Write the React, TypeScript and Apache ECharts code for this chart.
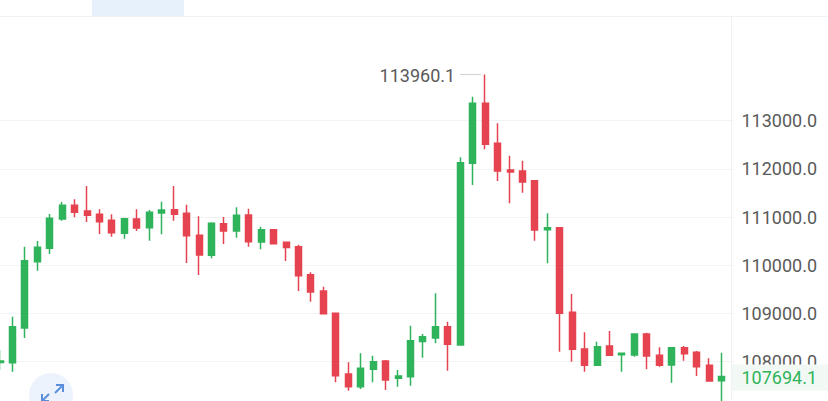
import React, { useEffect, useRef } from "react";
import * as echarts from "echarts";

// OHLC values (index 0 is the half-cut candle at the left edge)
const opens = [107983, 107979, 108699, 110075, 110353, 110961, 111245, 111127, 111058, 110934, 110664, 110961, 110780, 111085, 111154, 111079, 110622, 110207, 110863, 110712, 111044, 110483, 110739, 110479, 110386, 109805, 109467, 109004, 107745, 107481, 107842, 108015, 107656, 107689, 108419, 108492, 108726, 108346, 112116, 113361, 112531, 111977, 111956, 111755, 110739, 110780, 109025, 108263, 107925, 108326, 108145, 108139, 108575, 108133, 107932, 108290, 108195, 107925, 107606];
const closes = [108015, 108726, 110095, 110373, 110975, 111245, 111100, 111037, 110905, 110676, 110967, 110774, 111100, 111147, 111058, 110614, 110214, 110871, 110712, 111037, 110490, 110739, 110448, 110369, 109784, 109446, 108996, 107710, 107481, 107863, 108000, 107620, 107703, 108436, 108519, 108726, 108361, 112129, 113361, 112510, 111956, 111936, 111728, 110732, 110780, 109004, 108257, 107925, 108311, 108133, 108174, 108575, 108118, 107925, 108290, 108166, 107896, 107600, 107694.1];
const lows = [107828, 107792, 108492, 109888, 110234, 110925, 110996, 110898, 110649, 110593, 110552, 110712, 110510, 110643, 110925, 110048, 109799, 110145, 110442, 110573, 110386, 110332, 110442, 110089, 109467, 109245, 108990, 107573, 107398, 107434, 107573, 107413, 107481, 107502, 108083, 108382, 107813, 108332, 111666, 112407, 111749, 111286, 111506, 110510, 110041, 108207, 108000, 107792, 107920, 108130, 107792, 108104, 107842, 107896, 107564, 108021, 107703, 107585, 107000];
const highs = [108243, 108934, 110386, 110504, 111064, 111313, 111369, 111645, 111162, 111058, 110988, 111162, 111147, 111320, 111645, 111257, 111017, 110892, 111002, 111203, 111174, 110801, 110753, 110483, 110427, 109855, 109556, 109010, 107988, 108174, 108124, 108035, 107828, 108747, 108575, 109419, 108830, 112241, 113498, 113960.1, 112946, 112274, 112170, 111760, 111079, 110790, 109404, 108610, 108415, 108637, 108180, 108580, 108602, 108299, 108295, 108326, 108222, 108070, 108187];

const lastPrice = 107694.1;
const yMin = 108000;
const yMax = 113000;
const yStep = 1000;

// one empty slot after the last candle (the right edge of the plot)
const categories = [...opens.map((_, i) => String(i)), ""];

const GREEN = "#2FB35B";
const RED = "#E5434F";
const FONT = "Roboto, 'Noto Sans', sans-serif";

export default function App() {
  const ref = useRef<HTMLDivElement>(null);

  useEffect(() => {
    const chart = echarts.init(ref.current!, null, { renderer: "svg" });
    const data = opens.map((o, i) => [o, closes[i], lows[i], highs[i]]);
    const step = 12.44;
    const gridLeft = 0;
    const gridWidth = step * (categories.length - 1);

    chart.setOption({
      animation: false,
      backgroundColor: "#ffffff",
      grid: { left: gridLeft, width: gridWidth, top: 120.7, height: 241 },
      xAxis: {
        type: "category",
        data: categories,
        boundaryGap: false,
        show: false,
      },
      yAxis: {
        type: "value",
        position: "right",
        min: yMin,
        max: yMax,
        interval: yStep,
        axisLine: { show: false },
        axisTick: { show: false },
        splitLine: { lineStyle: { color: "#F2F3F5", width: 1 } },
        axisLabel: {
          align: "right",
          margin: 817 - (gridLeft + gridWidth),
          color: "#5A5A5A",
          fontSize: 18,
          fontFamily: FONT,
          formatter: (v: number) => v.toFixed(1),
        },
      },
      series: [
        {
          type: "candlestick",
          data,
          clip: false,
          barWidth: 6.5,
          itemStyle: {
            color: GREEN,
            color0: RED,
            borderColor: GREEN,
            borderColor0: RED,
            borderWidth: 1.5,
          },
          markLine: {
            silent: true,
            symbol: ["none", "none"],
            label: { show: false },
            lineStyle: { color: "#9A9A9A", type: [4, 4], width: 1 },
            data: [{ yAxis: lastPrice }],
          },
        },
      ],
    });

    let maxIdx = 0;
    highs.forEach((h, i) => {
      if (h > highs[maxIdx]) maxIdx = i;
    });
    const p = chart.convertToPixel({ gridIndex: 0 }, [maxIdx, highs[maxIdx]]) as number[];
    const lp = chart.convertToPixel({ gridIndex: 0 }, [0, lastPrice]) as number[];

    chart.setOption({
      graphic: [
        { type: "rect", z: 100, shape: { x: 92, y: 0, width: 92, height: 16 }, style: { fill: "#E7F1FC" } },
        { type: "line", z: 100, shape: { x1: 0, y1: 16.5, x2: 828, y2: 16.5 }, style: { stroke: "#F0F1F3", lineWidth: 1 } },
        { type: "line", z: 100, shape: { x1: 731.5, y1: 16.5, x2: 731.5, y2: 401 }, style: { stroke: "#F0F1F3", lineWidth: 1 } },
        { type: "rect", z: 100, shape: { x: 732, y: lp[1] - 12, width: 96, height: 26 }, style: { fill: "#F2F9F4" } },
        {
          type: "text", z: 101, x: 817, y: lp[1] + 1,
          style: { text: String(lastPrice), align: "right", verticalAlign: "middle", fill: GREEN, fontSize: 18, fontFamily: FONT },
        },
        {
          type: "text", z: 101, x: p[0] - 30, y: p[1] + 1,
          style: { text: String(highs[maxIdx]), align: "right", verticalAlign: "middle", fill: "#5A5A5A", fontSize: 18, fontFamily: FONT },
        },
        { type: "line", z: 101, shape: { x1: p[0] - 25, y1: p[1], x2: p[0] - 4, y2: p[1] }, style: { stroke: "#D0D0D0", lineWidth: 1 } },
        { type: "circle", z: 100, shape: { cx: 51, cy: 395, r: 22 }, style: { fill: "#EDF3FC" } },
        { type: "polyline", z: 101, shape: { points: [[56, 385], [63, 385], [63, 392]] }, style: { stroke: "#5B8FDC", lineWidth: 2, fill: null } },
        { type: "line", z: 101, shape: { x1: 63, y1: 385, x2: 55, y2: 393 }, style: { stroke: "#5B8FDC", lineWidth: 2 } },
        { type: "polyline", z: 101, shape: { points: [[42, 394], [42, 401], [49, 401]] }, style: { stroke: "#5B8FDC", lineWidth: 2, fill: null } },
        { type: "line", z: 101, shape: { x1: 42, y1: 401, x2: 49, y2: 394 }, style: { stroke: "#5B8FDC", lineWidth: 2 } },
      ],
    });

    return () => chart.dispose();
  }, []);

  return (
    <div
      ref={ref}
      style={{ position: "fixed", left: 0, top: 0, width: 828, height: 401 }}
    />
  );
}
